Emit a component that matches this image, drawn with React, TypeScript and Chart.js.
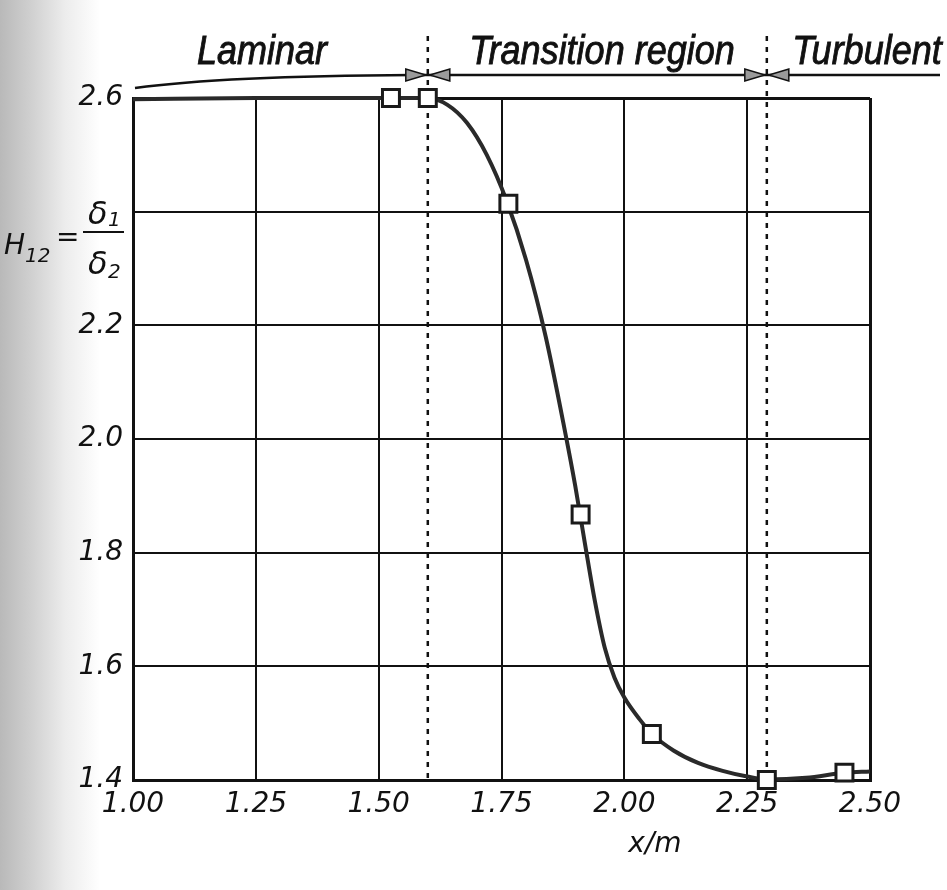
import React, { useEffect, useRef } from "react";
import { Chart, registerables } from "chart.js";

Chart.register(...registerables);

// Smooth curve of H12 along x
const curveX = [1.0, 1.25, 1.52, 1.6, 1.64, 1.68, 1.72, 1.76, 1.8, 1.84, 1.88, 1.9, 1.92, 1.94, 1.96, 1.98, 2.0, 2.03, 2.06, 2.1, 2.15, 2.2, 2.25, 2.29, 2.37, 2.45, 2.5];
const curveY = [2.598, 2.6, 2.6, 2.6, 2.588, 2.556, 2.5, 2.42, 2.315, 2.18, 2.01, 1.918, 1.815, 1.715, 1.633, 1.58, 1.545, 1.508, 1.478, 1.452, 1.43, 1.416, 1.406, 1.401, 1.404, 1.413, 1.415];

// Measured points (square markers)
const markerX = [1.525, 1.6, 1.764, 1.911, 2.056, 2.29, 2.448];
const markerY = [2.6, 2.6, 2.414, 1.867, 1.481, 1.4, 1.413];

// Region boundaries (dashed lines) and region labels
const boundaries = [1.6, 2.29];
const regionLabels = ["Laminar", "Transition region", "Turbulent"];
const regionLabelX = [262, 602, 867];

const xMin = 1.0;
const xMax = 2.5;
const xStep = 0.25;
const yMin = 1.4;
const yMax = 2.6;
const yStep = 0.2;
const hiddenYTick = 2.4;
const xTitle = "x/m";

const TICK_FONT = "DejaVu Sans";

const annotations = {
  id: "annotations",
  beforeDatasetsDraw(chart: any) {
    const { ctx, scales, chartArea } = chart;
    ctx.save();
    ctx.strokeStyle = "#111";
    ctx.lineWidth = 2.5;
    ctx.setLineDash([5, 6]);
    boundaries.forEach((b) => {
      const px = scales.x.getPixelForValue(b);
      ctx.beginPath();
      ctx.moveTo(px, 36);
      ctx.lineTo(px, chartArea.bottom);
      ctx.stroke();
    });
    ctx.restore();
  },
  afterDraw(chart: any) {
    const { ctx, scales, chartArea } = chart;
    ctx.save();
    // arrow line
    const ay = 75;
    ctx.strokeStyle = "#111";
    ctx.lineWidth = 2.5;
    ctx.beginPath();
    ctx.moveTo(chartArea.left + 2, ay + 13);
    ctx.quadraticCurveTo(chartArea.left + 90, ay + 1, chartArea.left + 280, ay);
    ctx.lineTo(940, ay);
    ctx.stroke();
    boundaries.forEach((b) => {
      const px = scales.x.getPixelForValue(b);
      [-1, 1].forEach((dir) => {
        ctx.beginPath();
        ctx.moveTo(px + dir * 2, ay);
        ctx.lineTo(px + dir * 22, ay - 6);
        ctx.lineTo(px + dir * 22, ay + 6);
        ctx.closePath();
        ctx.fillStyle = "#9a9a9a";
        ctx.fill();
        ctx.lineWidth = 1.5;
        ctx.stroke();
      });
    });

    // region labels
    ctx.fillStyle = "#111";
    ctx.textAlign = "center";
    ctx.textBaseline = "alphabetic";
    ctx.font = 'italic 40px "Liberation Sans"';
    regionLabels.forEach((t, i) => {
      ctx.save();
      ctx.translate(regionLabelX[i], 64);
      ctx.scale(0.9, 1);
      ctx.fillText(t, 0, 0);
      ctx.lineWidth = 0.9;
      ctx.strokeStyle = "#111";
      ctx.strokeText(t, 0, 0);
      ctx.restore();
    });

    // y-axis label  H12 = δ1/δ2
    const f = `"${TICK_FONT}"`;
    ctx.textAlign = "left";
    ctx.font = `italic 28px ${f}`;
    ctx.fillText("H", 4, 254);
    ctx.font = `italic 20px ${f}`;
    ctx.fillText("12", 25, 262);
    ctx.font = `28px ${f}`;
    ctx.fillText("=", 56, 246);
    ctx.lineWidth = 2;
    ctx.beginPath();
    ctx.moveTo(83, 232);
    ctx.lineTo(124, 232);
    ctx.stroke();
    ctx.font = `italic 32px ${f}`;
    ctx.fillText("δ", 88, 224);
    ctx.fillText("δ", 88, 274);
    ctx.font = `italic 20px ${f}`;
    ctx.fillText("1", 108, 226);
    ctx.fillText("2", 108, 278);

    // x title
    ctx.textAlign = "center";
    ctx.font = `italic 28px ${f}`;
    ctx.fillText(xTitle, 655, 852);
    ctx.restore();
  },
};

export default function App() {
  const ref = useRef<HTMLCanvasElement>(null);
  useEffect(() => {
    document.body.style.margin = "0";
    if (!ref.current) return;
    const edgeW = (v: number, min: number, max: number) =>
      Math.abs(v - min) < 1e-6 || Math.abs(v - max) < 1e-6 ? 3 : 2;
    const chart = new Chart(ref.current, {
      type: "scatter",
      data: {
        datasets: [
          {
            label: "measured",
            data: markerX.map((x, i) => ({ x, y: markerY[i] })),
            showLine: false,
            pointStyle: "rect",
            pointRadius: 12,
            pointBorderWidth: 3,
            pointBackgroundColor: "#ffffff",
            pointBorderColor: "#1a1a1a",
            order: 0,
            clip: false,
          } as any,
          {
            label: "H12",
            data: curveX.map((x, i) => ({ x, y: curveY[i] })),
            showLine: true,
            borderColor: "#2a2a2a",
            borderWidth: 4,
            pointRadius: 0,
            cubicInterpolationMode: "monotone",
            order: 1,
            clip: false,
          } as any,
        ],
      },
      options: {
        responsive: false,
        animation: false,
        layout: { padding: { top: 98, right: 77, left: 0, bottom: 0 } },
        plugins: { legend: { display: false }, tooltip: { enabled: false } },
        scales: {
          x: {
            type: "linear",
            min: xMin,
            max: xMax,
            afterFit: (s: any) => {
              s.height = 110;
            },
            ticks: {
              stepSize: xStep,
              padding: 8,
              color: "#111",
              font: { family: TICK_FONT, size: 28, style: "italic" },
              callback: (v: any) => Number(v).toFixed(2),
            },
            grid: {
              color: "#111",
              drawTicks: false,
              lineWidth: (c: any) => edgeW(c.tick?.value, xMin, xMax),
            },
            border: { color: "#111", width: 3 },
          },
          y: {
            type: "linear",
            min: yMin,
            max: yMax,
            afterFit: (s: any) => {
              s.width = 133;
            },
            ticks: {
              stepSize: yStep,
              padding: 10,
              color: "#111",
              font: { family: TICK_FONT, size: 28, style: "italic" },
              callback: (v: any) =>
                Math.abs(Number(v) - hiddenYTick) < 1e-6 ? "" : Number(v).toFixed(1),
            },
            grid: {
              color: "#111",
              drawTicks: false,
              lineWidth: (c: any) => edgeW(c.tick?.value, yMin, yMax),
            },
            border: { color: "#111", width: 3 },
          },
        },
      },
      plugins: [annotations],
    });
    return () => chart.destroy();
  }, []);

  return (
    <div
      style={{
        width: 947,
        height: 890,
        position: "relative",
        background:
          "linear-gradient(to right, #b9b9b9 0px, #cfcfcf 30px, #ececec 65px, #ffffff 100px)",
      }}
    >
      <canvas ref={ref} width={947} height={890} style={{ display: "block" }} />
    </div>
  );
}
